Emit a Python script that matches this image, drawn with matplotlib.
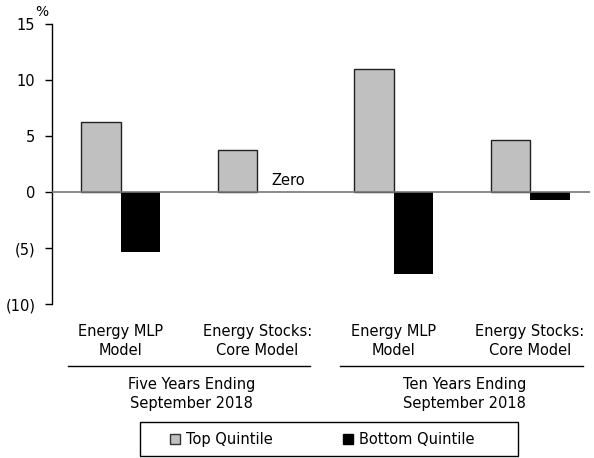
import matplotlib.pyplot as plt
import matplotlib.transforms as mtransforms
from matplotlib.patches import Patch, Rectangle

# Returns by model and period, in percent
categories = ["Energy MLP\nModel", "Energy Stocks:\nCore Model",
              "Energy MLP\nModel", "Energy Stocks:\nCore Model"]
periods = ["Five Years Ending\nSeptember 2018", "Ten Years Ending\nSeptember 2018"]
top_quintile = [6.3, 3.8, 11.0, 4.7]
bottom_quintile = [-5.3, 0.0, -7.3, -0.7]
yticks = [15, 10, 5, 0, -5, -10]
ytick_labels = ["15", "10", "5", "0", "(5)", "(10)"]

plt.rcParams['font.family'] = ['DejaVu Sans']
plt.rcParams['font.size'] = 10.5

fig = plt.figure(figsize=(5.94, 4.58), dpi=100)
ax = fig.add_axes([0.0875, 0.336, 0.906, 0.611])

x = list(range(len(categories)))
w = 0.29
ax.bar([i - w / 2 for i in x], top_quintile, width=w, color="#c0c0c0",
       edgecolor="#222222", linewidth=1.0, zorder=2)
ax.bar([i + w / 2 for i in x], bottom_quintile, width=w, color="black",
       linewidth=0, zorder=2)

# zero-value bar gets a text note instead
ax.text(1 + 0.1, 0.35, "Zero", ha="left", va="bottom", fontsize=10.5)

ax.axhline(0, color="#777777", linewidth=1.2, zorder=3)
ax.set_xlim(-0.505, 3.44)
ax.set_ylim(-10, 15)
ax.set_yticks(yticks)
ax.set_yticklabels(ytick_labels)
ax.tick_params(axis="y", direction="out", length=5, width=1, pad=7)
ax.set_xticks(x)
ax.set_xticklabels(categories, linespacing=1.35)
ax.tick_params(axis="x", length=0, pad=14)
for s in ["top", "right", "bottom"]:
    ax.spines[s].set_visible(False)
ax.spines["left"].set_linewidth(1.0)

ax.text(-0.58, 15.5, "%", ha="center", va="bottom", fontsize=10)

# period brackets under category labels
trans = mtransforms.blended_transform_factory(ax.transData, ax.transAxes)
for j, label in enumerate(periods):
    c = 0.5 + 2 * j
    ax.plot([c - 0.89, c + 0.89], [-0.221, -0.221], color="black",
            linewidth=1.0, transform=trans, clip_on=False)
    ax.text(c + 0.02, -0.26, label, ha="center", va="top", transform=trans,
            linespacing=1.35)

handles = [Patch(facecolor="#c0c0c0", edgecolor="#333333", label="Top Quintile"),
           Patch(facecolor="black", edgecolor="black", label="Bottom Quintile")]
fig.legend(handles=handles, loc="center", bbox_to_anchor=(0.542, 0.041),
           ncol=2, frameon=False, handlelength=0.7, handleheight=0.7,
           handletextpad=0.4, columnspacing=4.8)
# legend box
fig.add_artist(Rectangle((140 / 594, 2 / 458), 378 / 594, 34 / 458,
                         transform=fig.transFigure, fill=False,
                         edgecolor="black", linewidth=1.0))

fig.savefig("out.png", dpi=100)
